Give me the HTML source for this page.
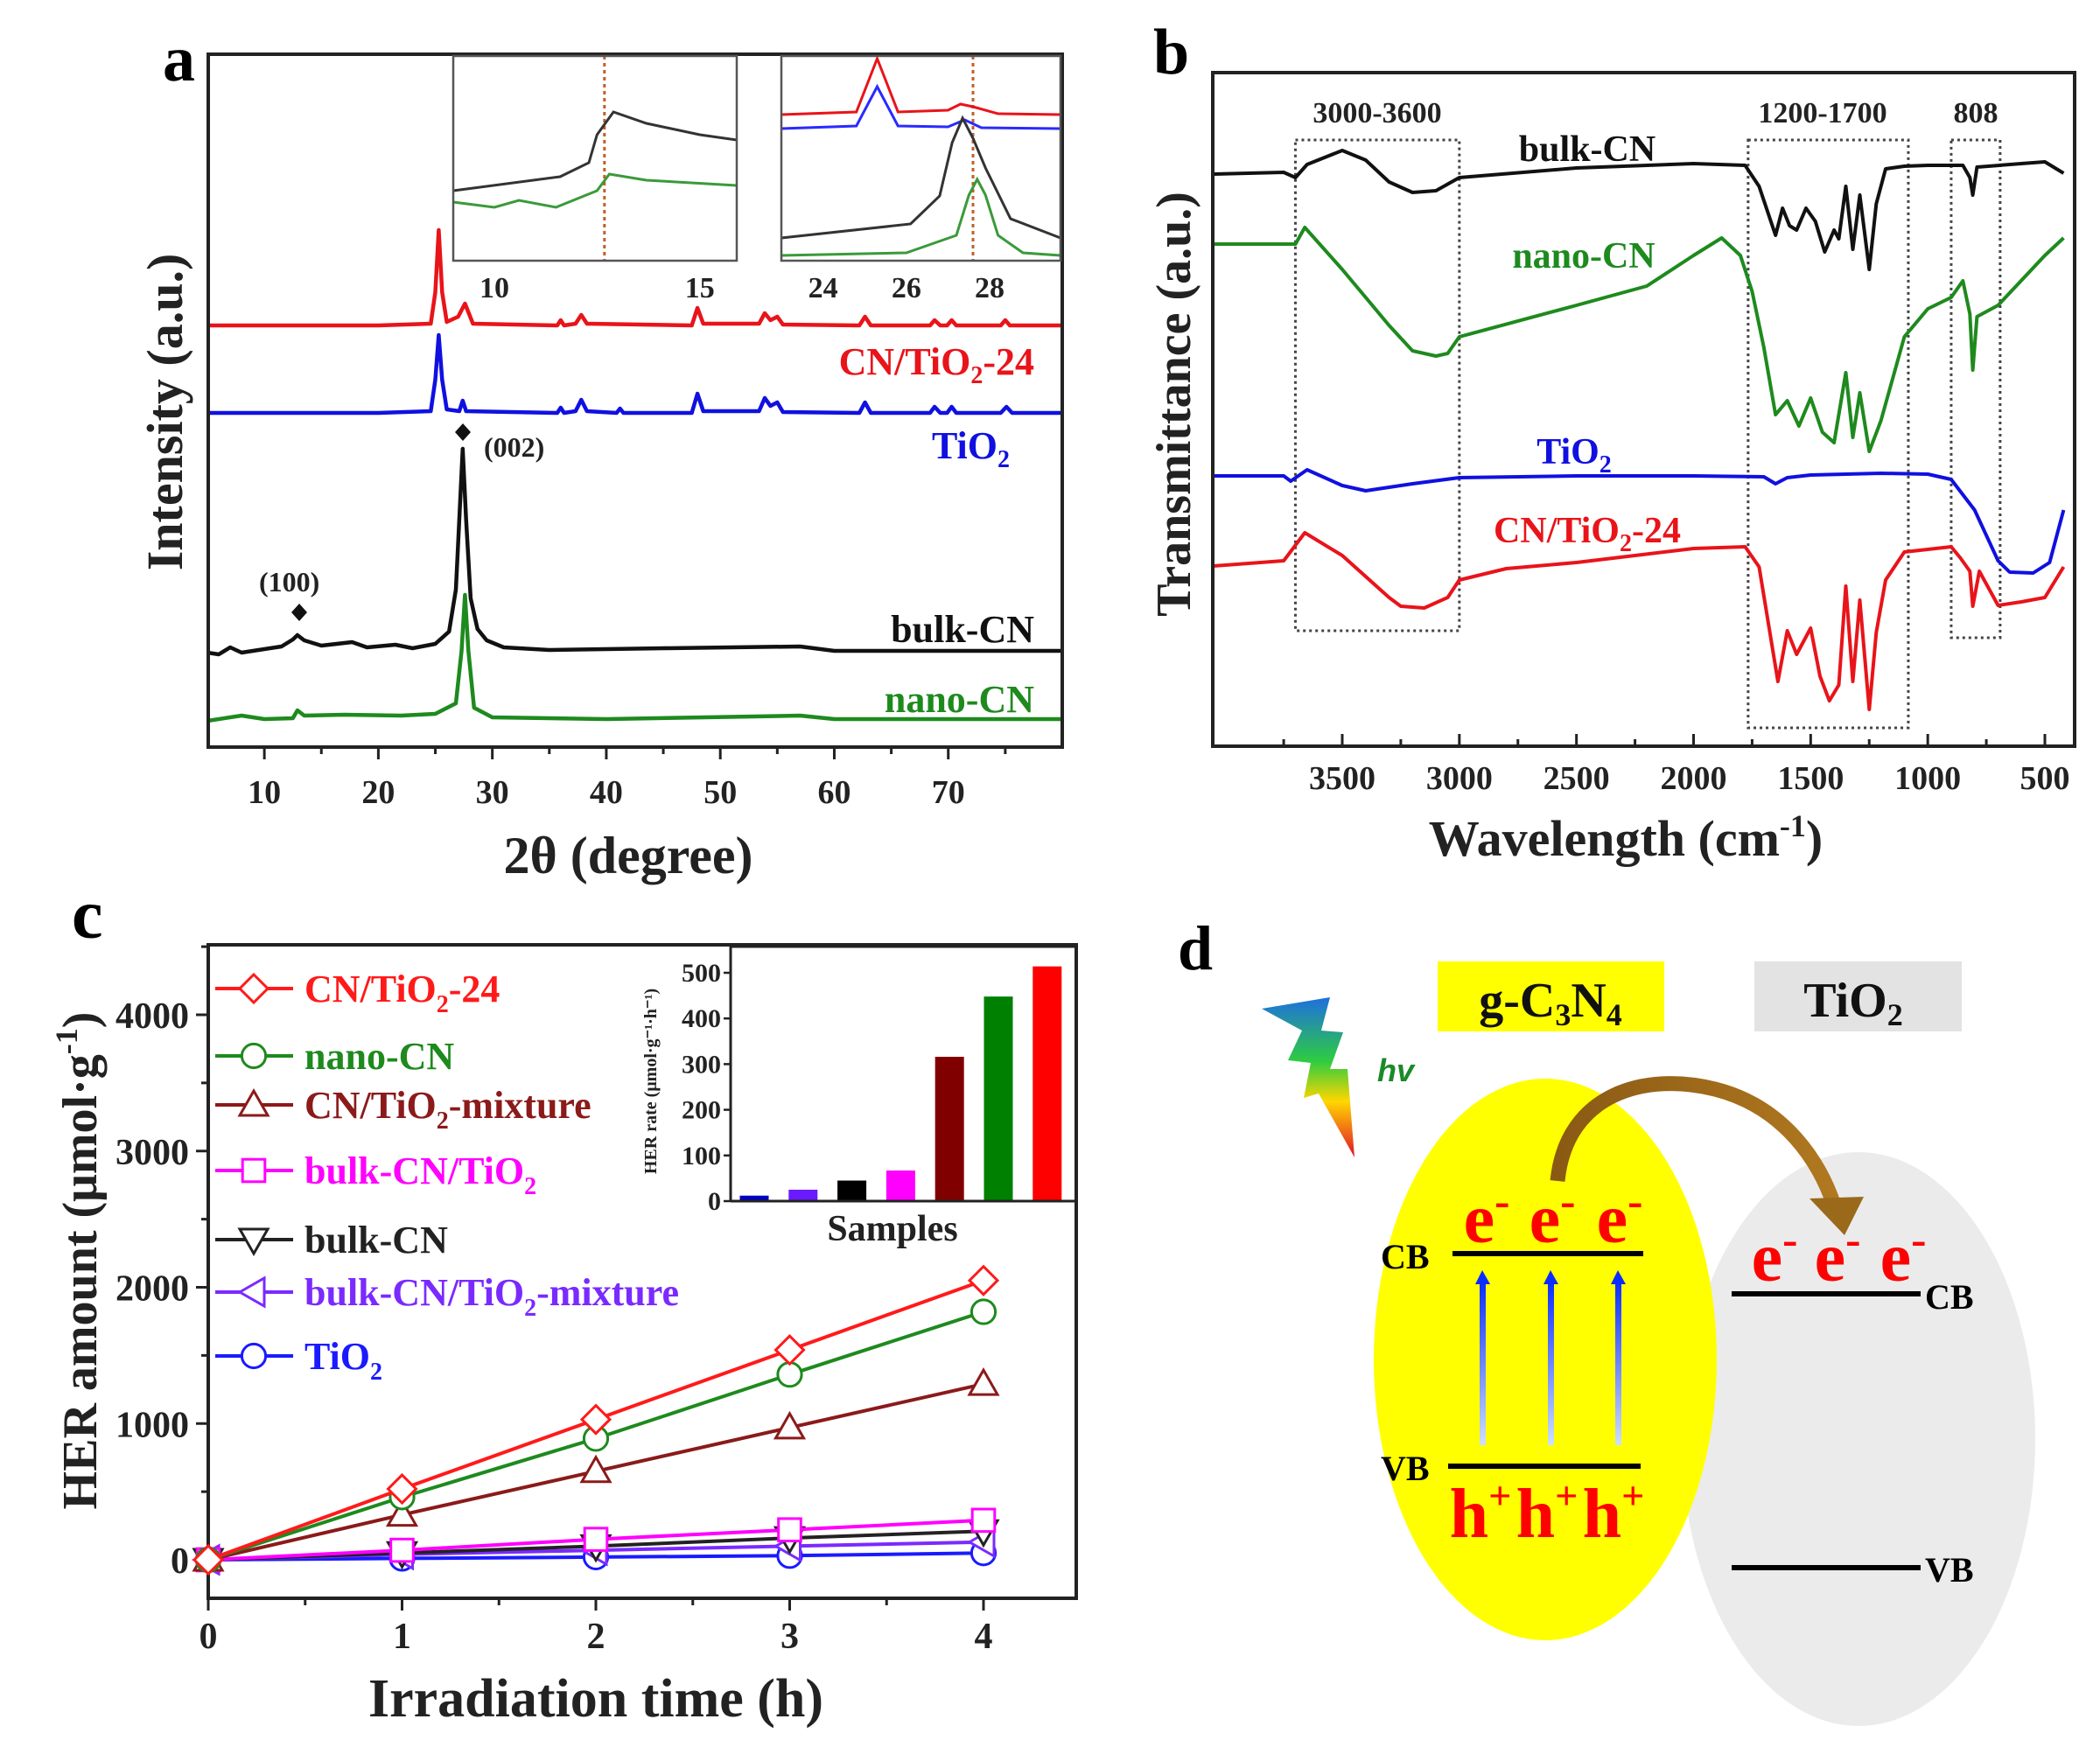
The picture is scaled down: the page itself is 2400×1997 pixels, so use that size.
<!DOCTYPE html>
<html><head><meta charset="utf-8"><title>Composite figure</title>
<style>
html,body{margin:0;padding:0;background:#fff;}
svg{display:block;font-family:"Liberation Serif",serif;font-weight:bold;}
</style></head>
<body>
<svg id="fig" width="2400" height="1997" viewBox="0 0 2400 1997" xmlns="http://www.w3.org/2000/svg">
<defs>
<linearGradient id="bolt" x1="0" y1="0" x2="0" y2="1">
<stop offset="0" stop-color="#1e6fe0"/><stop offset="0.4" stop-color="#2ecc40"/><stop offset="0.65" stop-color="#ffd700"/><stop offset="1" stop-color="#e0102a"/></linearGradient>
<linearGradient id="up" x1="0" y1="1" x2="0" y2="0"><stop offset="0" stop-color="#cfe0ff"/><stop offset="1" stop-color="#0a2cff"/></linearGradient>
<linearGradient id="brown" x1="0" y1="0" x2="1" y2="0"><stop offset="0" stop-color="#8a5a14"/><stop offset="1" stop-color="#b07820"/></linearGradient>
</defs>
<g id="pa"></g>
<g id="pb"></g>
<g id="pc"></g>
<g id="pd">
 <text x="1346" y="1108" font-size="72">d</text>
 <rect x="1643" y="1099" width="259" height="80" fill="#ffff00"/>
 <text x="1772" y="1162" font-size="56" text-anchor="middle" fill="#111">g-C<tspan font-size="36" dy="10">3</tspan><tspan dy="-10">N</tspan><tspan font-size="36" dy="10">4</tspan></text>
 <rect x="2005" y="1099" width="237" height="80" fill="#e3e3e3"/>
 <text x="2118" y="1162" font-size="56" text-anchor="middle" fill="#111">TiO<tspan font-size="36" dy="10">2</tspan></text>
 <polygon points="1442,1153 1520,1140 1510,1178 1535,1180 1520,1222 1540,1222 1548,1323 1507,1250 1490,1255 1498,1215 1472,1212 1488,1178" fill="url(#bolt)"/>
 <text x="1574" y="1236" font-size="36" font-style="italic" font-family="Liberation Sans,sans-serif" fill="#1a8a2a">hv</text>
 <ellipse cx="2124" cy="1645" rx="202" ry="328" fill="#ebebeb"/>
 <ellipse cx="1766" cy="1554" rx="196" ry="321" fill="#ffff00"/>
 <path d="M1780,1350 C1790,1250 1880,1225 1960,1245 C2040,1265 2080,1330 2095,1375" fill="none" stroke="url(#brown)" stroke-width="17"/>
 <polygon points="2068,1370 2130,1368 2108,1412" fill="#9a6a1a"/>
 <line x1="1660" y1="1433" x2="1878" y2="1433" stroke="#000" stroke-width="6"/>
 <line x1="1655" y1="1676" x2="1875" y2="1676" stroke="#000" stroke-width="6"/>
 <text x="1578" y="1450" font-size="40">CB</text>
 <text x="1578" y="1692" font-size="40">VB</text>
 <g font-size="80" fill="#ff0000" text-anchor="middle">
  <text x="1699" y="1420">e<tspan font-size="52" dy="-30">-</tspan></text>
  <text x="1774" y="1420">e<tspan font-size="52" dy="-30">-</tspan></text>
  <text x="1851" y="1420">e<tspan font-size="52" dy="-30">-</tspan></text>
  <text x="1692" y="1757">h<tspan font-size="46" dy="-32">+</tspan></text>
  <text x="1768" y="1757">h<tspan font-size="46" dy="-32">+</tspan></text>
  <text x="1844" y="1757">h<tspan font-size="46" dy="-32">+</tspan></text>
  <text x="2028" y="1464">e<tspan font-size="52" dy="-30">-</tspan></text>
  <text x="2100" y="1464">e<tspan font-size="52" dy="-30">-</tspan></text>
  <text x="2175" y="1464">e<tspan font-size="52" dy="-30">-</tspan></text>
 </g>
 <g fill="url(#up)">
  <rect x="1691" y="1465" width="7" height="187"/>
  <rect x="1769" y="1465" width="7" height="187"/>
  <rect x="1846" y="1465" width="7" height="187"/>
 </g>
 <g fill="#0a2cff">
  <polygon points="1686,1468 1703,1468 1694,1452"/><polygon points="1764,1468 1781,1468 1772,1452"/><polygon points="1841,1468 1858,1468 1849,1452"/>
 </g>
 <line x1="1979" y1="1479" x2="2195" y2="1479" stroke="#000" stroke-width="6"/>
 <line x1="1979" y1="1792" x2="2195" y2="1792" stroke="#000" stroke-width="6"/>
 <text x="2200" y="1496" font-size="40">CB</text>
 <text x="2200" y="1808" font-size="40">VB</text>
</g>
</svg>
<script>
// ===== Panel a data (2θ, intensity a.u.) =====
const xrdRedX = [5,20,24.6,25.0,25.3,25.6,26.0,27.0,27.6,28.3,35.7,36.0,36.3,37.3,37.8,38.3,47.5,48.0,48.5,53.4,53.9,54.4,55.0,55.5,62.2,62.7,63.2,68.4,68.8,69.3,69.9,70.3,70.7,74.6,75.0,75.4,80];
const xrdRedY = [482,482,484,520,591,520,486,492,507,484,482,488,482,484,494,484,482,502,484,484,496,488,492,483,482,492,482,482,488,482,482,488,482,482,488,482,482];
const xrdBlueX = [5,20,24.6,25.0,25.3,25.6,26.0,27.1,27.4,27.7,35.7,36.0,36.3,37.3,37.8,38.3,40.9,41.2,41.5,47.5,48.0,48.5,53.4,53.9,54.4,55.0,55.5,62.2,62.7,63.2,68.4,68.8,69.3,69.9,70.3,70.7,74.6,75.1,75.6,80];
const xrdBlueY = [382,382,384,420,471,420,386,384,396,384,382,388,382,384,397,384,382,387,382,382,404,384,384,399,390,394,383,382,394,382,382,389,382,382,389,382,382,389,382,382];
const xrdBlackX = [5,6,7,8,10,11.5,12.5,12.9,13.5,15,17.7,19,21.5,23,25,26.2,26.8,27.1,27.4,27.7,28.1,28.7,29.5,31,35,45,57,60,80];
const xrdBlackY = [108,106,114,108,112,115,123,128,122,116,120,114,117,113,118,132,180,260,341,260,170,135,122,114,111,113,115,110,110];
const xrdGreenX = [5,8,10,12.5,12.9,13.5,17,22,25,26.8,27.3,27.6,27.9,28.4,30,40,57,60,80];
const xrdGreenY = [30,36,32,33,42,36,37,36,38,50,110,174,110,45,34,32,36,32,32];
// inset 1 (9-16 deg)
const in1X = [9.0,11.6,12.3,12.5,12.9,13.7,15.0,15.9];
const in1Black = [80,96,112,144,170,157,144,138];
const in1GreenX = [9.0,10.0,10.6,11.5,12.5,12.8,13.7,15.9];
const in1Green = [67,61,69,61,80,99,92,86];
// inset 2 (23-29.7 deg)
const in2RedX = [23,24.8,25.3,25.8,27.0,27.3,27.6,28.2,29.7];
const in2Red = [167,170,231,170,172,179,176,168,167];
const in2BlueX = [23,24.8,25.3,25.8,27.0,27.4,27.8,29.7];
const in2Blue = [151,154,199,154,153,161,152,151];
const in2BlackX = [23,26.1,26.8,27.1,27.35,27.6,27.9,28.5,29.7];
const in2Black = [26,42,74,135,163,140,106,48,26];
const in2GreenX = [23,26,27.2,27.5,27.7,27.9,28.2,28.8,29.7];
const in2Green = [6,9,29,75,93,75,29,9,6];
const xrdTicks = [10,20,30,40,50,60,70];

// ===== Panel b data (wavenumber, transmittance a.u.) =====
const ftBulkX = [4050,3750,3700,3650,3500,3400,3300,3200,3100,3000,2500,2000,1780,1720,1650,1620,1590,1560,1520,1480,1440,1400,1380,1350,1320,1290,1250,1220,1180,1100,1000,850,820,808,790,600,500,420];
const ftBulkY = [654,656,650,665,681,670,645,633,635,650,661,666,664,640,584,615,595,590,615,600,565,590,580,640,568,630,545,620,660,663,664,664,650,630,662,666,668,655];
const ftNanoX = [4050,3700,3660,3500,3400,3300,3200,3100,3050,3000,2500,2200,2000,1880,1800,1750,1700,1650,1600,1550,1500,1450,1400,1350,1320,1290,1250,1200,1100,1000,900,850,820,808,790,700,500,420];
const ftNanoY = [574,574,593,545,513,481,452,446,449,468,504,526,561,581,561,520,456,379,395,366,398,359,347,427,353,404,337,372,468,500,513,532,494,430,491,504,561,581];
const ftTiX = [4050,3750,3720,3650,3500,3400,3200,3000,2500,2000,1700,1650,1600,1500,1200,1000,900,800,700,650,550,480,420];
const ftTiY = [309,309,303,316,298,292,300,307,309,309,308,300,307,310,312,311,305,270,212,199,198,210,270];
const ftCnX = [4050,3750,3660,3500,3300,3250,3150,3050,3000,2800,2500,2000,1780,1720,1640,1600,1560,1500,1460,1420,1380,1350,1320,1290,1250,1220,1180,1100,1000,900,860,820,808,780,700,600,500,420];
const ftCnY = [206,212,244,218,170,160,158,170,190,203,210,226,228,205,74,132,105,135,80,52,70,183,74,167,42,130,190,222,225,228,215,200,160,200,161,165,170,205];
const ftTicks = [3500,3000,2500,2000,1500,1000,500];

// ===== Panel c data =====
const herTimes = [0,1,2,3,4];
const herCn24 = [0,520,1030,1540,2050];
const herNano = [0,460,890,1360,1820];
const herMix = [0,330,650,970,1290];
const herBulkTi = [0,70,150,220,290];
const herBulk = [0,50,100,160,210];
const herBulkMix = [0,40,70,100,130];
const herTiO2 = [0,10,20,30,50];
const herYTicks = [0,1000,2000,3000,4000];
const rateValues = [12,25,45,67,316,448,514];
const rateColors = ["#0000c0","#6a1aff","#000000","#ff00ff","#800000","#008000","#ff0000"];
const rateTicks = [0,100,200,300,400,500];

const NS = "http://www.w3.org/2000/svg";
function el(parent, tag, attrs, text){
  const e = document.createElementNS(NS, tag);
  for (const k in attrs) e.setAttribute(k, attrs[k]);
  if (text !== undefined) e.textContent = text;
  parent.appendChild(e);
  return e;
}
function lin(d0,d1,r0,r1){ return v => r0 + (v-d0)*(r1-r0)/(d1-d0); }
function pathD(xs, ys, sx, sy){
  return xs.map((x,i)=>(i?"L":"M")+sx(x).toFixed(1)+","+sy(ys[i]).toFixed(1)).join(" ");
}

// ---------- Panel a ----------
(function(){
  const g = document.getElementById('pa');
  const sx = lin(5,80,237,1214), sy = lin(0,792,854,62);
  const lab = el(g,'text',{x:186,y:92,'font-size':74});
  lab.textContent='a';
  
  
  const series = [[xrdRedX,xrdRedY,'#e8141a','xrd-cn-tio2-24'],[xrdBlueX,xrdBlueY,'#1010e0','xrd-tio2'],[xrdBlackX,xrdBlackY,'#111','xrd-bulk-cn'],[xrdGreenX,xrdGreenY,'#1e8a1e','xrd-nano-cn']];
  series.forEach(s=>{
    const p = el(g,'path',{d:pathD(s[0],s[1],sx,sy),fill:'none',stroke:s[2],'stroke-width':4.5,'stroke-linejoin':'round'});
    
    
  });
  const fr = el(g,'rect',{x:238,y:62,width:976,height:792,fill:'none',stroke:'#222','stroke-width':4});
  
  
  xrdTicks.forEach(t=>{
    el(g,'line',{x1:sx(t),x2:sx(t),y1:854,y2:868,stroke:'#222','stroke-width':3});
    el(g,'line',{x1:sx(t+5),x2:sx(t+5),y1:854,y2:862,stroke:'#222','stroke-width':3});
    const tl = el(g,'text',{x:sx(t),y:918,'font-size':38,'text-anchor':'middle',fill:'#222'},String(t));
    
    
  });
  const xt = el(g,'text',{x:718,y:998,'font-size':60,'text-anchor':'middle',fill:'#222'},'2θ (degree)');
  
  
  const yt = el(g,'text',{x:0,y:0,'font-size':58,'text-anchor':'middle',fill:'#222',transform:'translate(208,471) rotate(-90)'},'Intensity (a.u.)');
  
  
  const labels = [['CN/TiO','2','-24','#e8141a',1182,428,'label-cn-tio2-24'],['TiO','2','','#1010e0',1154,524,'label-tio2'],['bulk-CN','','','#111',1182,734,'label-bulk-cn'],['nano-CN','','','#1e8a1e',1182,814,'label-nano-cn']];
  labels.forEach(l=>{
    const t = el(g,'text',{x:l[4],y:l[5],'font-size':44,'text-anchor':'end',fill:l[3]});
    
    
    t.appendChild(document.createTextNode(l[0]));
    if(l[1]){ el(t,'tspan',{'font-size':28,dy:10},l[1]); el(t,'tspan',{dy:-10},l[2]||'\u200b'); }
  });
  const a1=el(g,'text',{x:553,y:522,'font-size':32,fill:'#222'},'(002)');
  
  
  const a2=el(g,'text',{x:296,y:676,'font-size':32,fill:'#222'},'(100)');
  
  
  el(g,'polygon',{points:'529,484 538,494 529,504 520,494',fill:'#111'});
  el(g,'polygon',{points:'342,690 351,700 342,710 333,700',fill:'#111'});
  // inset 1
  const i1x = lin(9,15.9,518,842), i1y = v=>298-v;
  el(g,'rect',{x:518,y:64,width:324,height:234,fill:'#fff'});
  el(g,'line',{x1:i1x(12.68),x2:i1x(12.68),y1:64,y2:298,stroke:'#c0602a','stroke-width':3,'stroke-dasharray':'4,4'});
  let p=el(g,'path',{d:pathD(in1X,in1Black,i1x,i1y),fill:'none',stroke:'#333','stroke-width':3});
  
  
  p=el(g,'path',{d:pathD(in1GreenX,in1Green,i1x,i1y),fill:'none',stroke:'#3a9a3a','stroke-width':3});
  
  
  let f=el(g,'rect',{x:518,y:64,width:324,height:234,fill:'none',stroke:'#555','stroke-width':2.5});
  
  
  [10,15].forEach(t=>{ const tl=el(g,'text',{x:i1x(t),y:340,'font-size':34,'text-anchor':'middle',fill:'#222'},String(t));
    
     });
  // inset 2
  const i2x = lin(23,29.7,893,1212), i2y = v=>298-v;
  el(g,'rect',{x:893,y:64,width:319,height:234,fill:'#fff'});
  el(g,'line',{x1:i2x(27.6),x2:i2x(27.6),y1:64,y2:298,stroke:'#c0602a','stroke-width':3,'stroke-dasharray':'4,4'});
  [[in2RedX,in2Red,'#e8141a','inset2-cn-tio2-24'],[in2BlueX,in2Blue,'#2a2aff','inset2-tio2'],[in2BlackX,in2Black,'#333','inset2-bulk-cn'],[in2GreenX,in2Green,'#3a9a3a','inset2-nano-cn']].forEach(s=>{
    const q=el(g,'path',{d:pathD(s[0],s[1],i2x,i2y),fill:'none',stroke:s[2],'stroke-width':3});
    
    
  });
  f=el(g,'rect',{x:893,y:64,width:319,height:234,fill:'none',stroke:'#555','stroke-width':2.5});
  
  
  [24,26,28].forEach(t=>{ const tl=el(g,'text',{x:i2x(t),y:340,'font-size':34,'text-anchor':'middle',fill:'#222'},String(t));
    
     });
})();

// ---------- Panel b ----------
(function(){
  const g = document.getElementById('pb');
  const sx = lin(3500,500,1534,2337), sy = v=>853-v;
  const lab = el(g,'text',{x:1318,y:84,'font-size':74},'b');
  
  
  [[3700,3000,160,721,'box-3000-3600'],[1767,1083,160,832,'box-1200-1700'],[900,691,160,729,'box-808']].forEach(b=>{
    const r=el(g,'rect',{x:sx(b[0]),y:b[2],width:sx(b[1])-sx(b[0]),height:b[3]-b[2],fill:'none',stroke:'#444','stroke-width':3,'stroke-dasharray':'3,4'});
    
    
  });
  [['3000-3600',1574],['1200-1700',2083],['808',2258]].forEach(t=>{
    const tx=el(g,'text',{x:t[1],y:140,'font-size':34,'text-anchor':'middle',fill:'#222'},t[0]);
    
    
  });
  [[ftBulkX,ftBulkY,'#111','ftir-bulk-cn'],[ftNanoX,ftNanoY,'#1e8a1e','ftir-nano-cn'],[ftTiX,ftTiY,'#1010e0','ftir-tio2'],[ftCnX,ftCnY,'#e8141a','ftir-cn-tio2-24']].forEach(s=>{
    const p=el(g,'path',{d:pathD(s[0],s[1],sx,sy),fill:'none',stroke:s[2],'stroke-width':4,'stroke-linejoin':'round'});
    
    
  });
  const fr=el(g,'rect',{x:1386,y:83,width:985,height:770,fill:'none',stroke:'#222','stroke-width':4});
  
  
  ftTicks.forEach(t=>{
    el(g,'line',{x1:sx(t),x2:sx(t),y1:853,y2:839,stroke:'#222','stroke-width':3});
    el(g,'line',{x1:sx(t+250),x2:sx(t+250),y1:853,y2:845,stroke:'#222','stroke-width':3});
    const tl=el(g,'text',{x:sx(t),y:902,'font-size':38,'text-anchor':'middle',fill:'#222'},String(t));
    
    
  });
  const xt=el(g,'text',{x:1858,y:978,'font-size':58,'text-anchor':'middle',fill:'#222'});
  
  
  xt.appendChild(document.createTextNode('Wavelength (cm'));
  el(xt,'tspan',{'font-size':36,dy:-22},'-1');
  el(xt,'tspan',{dy:22},')');
  const yt=el(g,'text',{x:0,y:0,'font-size':56,'text-anchor':'middle',fill:'#222',transform:'translate(1360,462) rotate(-90)'},'Transmittance (a.u.)');
  
  
  [['bulk-CN','','','#111',1814,184,'label-bulk-cn'],['nano-CN','','','#1e8a1e',1810,306,'label-nano-cn'],['TiO','2','','#1010e0',1799,530,'label-tio2'],['CN/TiO','2','-24','#e8141a',1814,620,'label-cn-tio2-24']].forEach(l=>{
    const t=el(g,'text',{x:l[4],y:l[5],'font-size':42,'text-anchor':'middle',fill:l[3]});
    
    
    t.appendChild(document.createTextNode(l[0]));
    if(l[1]){ el(t,'tspan',{'font-size':28,dy:10},l[1]); if(l[2]) el(t,'tspan',{dy:-10},l[2]); }
  });
})();

// ---------- Panel c ----------
(function(){
  const g = document.getElementById('pc');
  const sx = lin(0,4,238,1124), sy = lin(0,4000,1783,1160);
  const lab=el(g,'text',{x:82,y:1072,'font-size':80},'c');
  
  
  const fr=el(g,'rect',{x:238,y:1080,width:992,height:747,fill:'none',stroke:'#222','stroke-width':4});
  
  
  herYTicks.forEach(t=>{
    el(g,'line',{x1:224,x2:238,y1:sy(t),y2:sy(t),stroke:'#222','stroke-width':3});
    el(g,'line',{x1:230,x2:238,y1:sy(t+500),y2:sy(t+500),stroke:'#222','stroke-width':3});
    const tl=el(g,'text',{x:216,y:sy(t)+15,'font-size':42,'text-anchor':'end',fill:'#222'},String(t));
    
    
  });
  herTimes.forEach(t=>{
    el(g,'line',{x1:sx(t),x2:sx(t),y1:1827,y2:1841,stroke:'#222','stroke-width':3});
    if(t<4) el(g,'line',{x1:sx(t+0.5),x2:sx(t+0.5),y1:1827,y2:1835,stroke:'#222','stroke-width':3});
    const tl=el(g,'text',{x:sx(t),y:1884,'font-size':42,'text-anchor':'middle',fill:'#222'},String(t));
    
    
  });
  const xt=el(g,'text',{x:681,y:1962,'font-size':62,'text-anchor':'middle',fill:'#222'},'Irradiation time (h)');
  
  
  const yt=el(g,'text',{x:0,y:0,'font-size':56,'text-anchor':'middle',fill:'#222',transform:'translate(110,1441) rotate(-90)'});
  
  
  yt.appendChild(document.createTextNode('HER amount (μmol·g'));
  el(yt,'tspan',{'font-size':36,dy:-22},'-1');
  el(yt,'tspan',{dy:22},')');
  function marker(type,x,y,color,r){
    let m;
    if(type==='diamond') m=el(g,'polygon',{points:`${x},${y-r} ${x+r},${y} ${x},${y+r} ${x-r},${y}`});
    else if(type==='circle') m=el(g,'circle',{cx:x,cy:y,r:r*0.85});
    else if(type==='up') m=el(g,'polygon',{points:`${x},${y-r} ${x+r},${y+r*0.75} ${x-r},${y+r*0.75}`});
    else if(type==='down') m=el(g,'polygon',{points:`${x},${y+r} ${x+r},${y-r*0.75} ${x-r},${y-r*0.75}`});
    else if(type==='left') m=el(g,'polygon',{points:`${x-r},${y} ${x+r*0.75},${y-r} ${x+r*0.75},${y+r}`});
    else m=el(g,'rect',{x:x-r*0.8,y:y-r*0.8,width:r*1.6,height:r*1.6});
    m.setAttribute('fill','#fff'); m.setAttribute('stroke',color); m.setAttribute('stroke-width',3);
    return m;
  }
  const series=[[herTiO2,'#1a1aff','circle','TiO','2',''],[herBulkMix,'#7a2aff','left','bulk-CN/TiO','2','-mixture'],[herBulk,'#222','down','bulk-CN','',''],[herBulkTi,'#ff00ff','square','bulk-CN/TiO','2',''],[herMix,'#8b1a1a','up','CN/TiO','2','-mixture'],[herNano,'#1e8a1e','circle','nano-CN','',''],[herCn24,'#ff1a1a','diamond','CN/TiO','2','-24']];
  series.forEach(s=>{
    const p=el(g,'path',{d:pathD(herTimes,s[0],sx,sy),fill:'none',stroke:s[1],'stroke-width':4});
    
    
    herTimes.forEach((t,i)=>{ const m=marker(s[2],sx(t),sy(s[0][i]),s[1],16);
      
       });
  });
  const legY=[1130,1207,1263,1338,1417,1477,1550];
  series.slice().reverse().forEach((s,i)=>{
    const y=legY[i];
    el(g,'line',{x1:246,x2:335,y1:y,y2:y,stroke:s[1],'stroke-width':4});
    marker(s[2],290,y,s[1],16);
    const t=el(g,'text',{x:348,y:y+15,'font-size':44,fill:s[1]});
    
    
    t.appendChild(document.createTextNode(s[3]));
    if(s[4]){ el(t,'tspan',{'font-size':28,dy:12},s[4]); if(s[5]) el(t,'tspan',{dy:-12},s[5]); }
  });
  // inset bar chart
  const bsy = lin(0,500,1373,1112);
  const bx0 = 862, bstep = 55.8;
  el(g,'rect',{x:835,y:1082,width:393,height:291,fill:'#fff'});
  rateValues.forEach((v,i)=>{
    const b=el(g,'rect',{x:bx0+i*bstep-16.5,y:bsy(v),width:33,height:1373-bsy(v),fill:rateColors[i]});
    
    
  });
  const ifr=el(g,'path',{d:'M835,1373 L835,1082 L1228,1082 M835,1373 L1228,1373',fill:'none',stroke:'#222','stroke-width':3});
  
  
  rateTicks.forEach(t=>{
    el(g,'line',{x1:827,x2:835,y1:bsy(t),y2:bsy(t),stroke:'#222','stroke-width':2.5});
    const tl=el(g,'text',{x:824,y:bsy(t)+10,'font-size':30,'text-anchor':'end',fill:'#222'},String(t));
    
    
  });
  const st=el(g,'text',{x:1020,y:1418,'font-size':42,'text-anchor':'middle',fill:'#222'},'Samples');
  
  
  const it=el(g,'text',{x:0,y:0,'font-size':20,'text-anchor':'middle',fill:'#222',transform:'translate(750,1236) rotate(-90)'},'HER rate (μmol·g⁻¹·h⁻¹)');
  
  
})();
</script>
</body></html>
